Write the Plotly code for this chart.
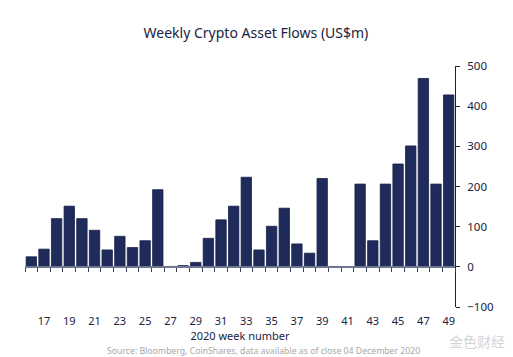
import plotly.graph_objects as go

weeks = list(range(16, 50))
flows = [25, 44, 120, 151, 120, 91, 42, 76, 48, 65, 192, 1, 3, 11, 71, 117, 151, 223, 42,
         101, 146, 57, 34, 220, 1, -1, 206, 65, 206, 256, 301, 469, 206, 428]
xtick_vals = list(range(17, 50, 2))
ytick_vals = [-100, 0, 100, 200, 300, 400, 500]

NAVY = "#1f2b5a"
TEXT = "#1a2240"

fig = go.Figure()
fig.add_trace(go.Bar(x=weeks, y=flows, marker=dict(color=NAVY, line=dict(color="#16204a", width=0.8)),
                     width=0.82, hoverinfo="x+y"))
fig.add_trace(go.Scatter(x=[], y=[], xaxis="x2", yaxis="y", showlegend=False, hoverinfo="skip"))

xr = [15.5, 49.5]
# the page body adds an 8px offset, so the figure is 8px smaller and margins are shifted
fig.update_layout(
    width=505, height=349,
    margin=dict(l=17, r=58, t=58, b=50),
    paper_bgcolor="white", plot_bgcolor="white",
    showlegend=False,
    title=dict(text="Weekly Crypto Asset Flows (US$m)", x=0.491, xanchor="center", y=0.928, yanchor="middle",
               font=dict(family="Noto Sans", size=14, color=TEXT)),
    font=dict(family="Noto Sans", color=TEXT),
    xaxis=dict(range=xr, tickmode="array", tickvals=xtick_vals, ticktext=[str(v) for v in xtick_vals],
               showgrid=False, zeroline=False, showline=False, ticks="", ticklabelstandoff=6,
               tickfont=dict(size=11, color=TEXT),
               title=dict(text="2020 week number", font=dict(size=11, color=TEXT), standoff=2)),
    xaxis2=dict(range=xr, overlaying="x", anchor="free", position=1/6, side="bottom",
                tickmode="array", tickvals=[w + 0.5 for w in [15] + weeks],
                showticklabels=False, ticks="outside", ticklen=4, tickcolor="#3a4060", tickwidth=1,
                showline=True, linecolor="#70768f", linewidth=1.5, showgrid=False, zeroline=False),
    yaxis=dict(range=[-100, 500], side="right", tickmode="array", tickvals=ytick_vals,
               showgrid=False, zeroline=False, showline=True, linecolor=TEXT, linewidth=1,
               ticks="outside", ticklen=4, tickcolor=TEXT, ticklabelstandoff=5,
               tickfont=dict(size=11.5, color=TEXT)),
    bargap=0.18,
)

fig.add_annotation(text="Source: Bloomberg, CoinShares, data available as of close 04 December 2020",
                   xref="paper", yref="paper", x=0.554, y=-0.183, xanchor="center", yanchor="middle",
                   showarrow=False, font=dict(family="Noto Sans", size=8.7, color="#a8a8a8"))
fig.add_annotation(text="金色财经", xref="paper", yref="paper", x=1.05, y=-0.14, xanchor="center",
                   yanchor="middle", showarrow=False, borderpad=0,
                   font=dict(family="Noto Sans CJK SC", size=14, color="#d4d4d4"))

fig.write_html("out.html")
